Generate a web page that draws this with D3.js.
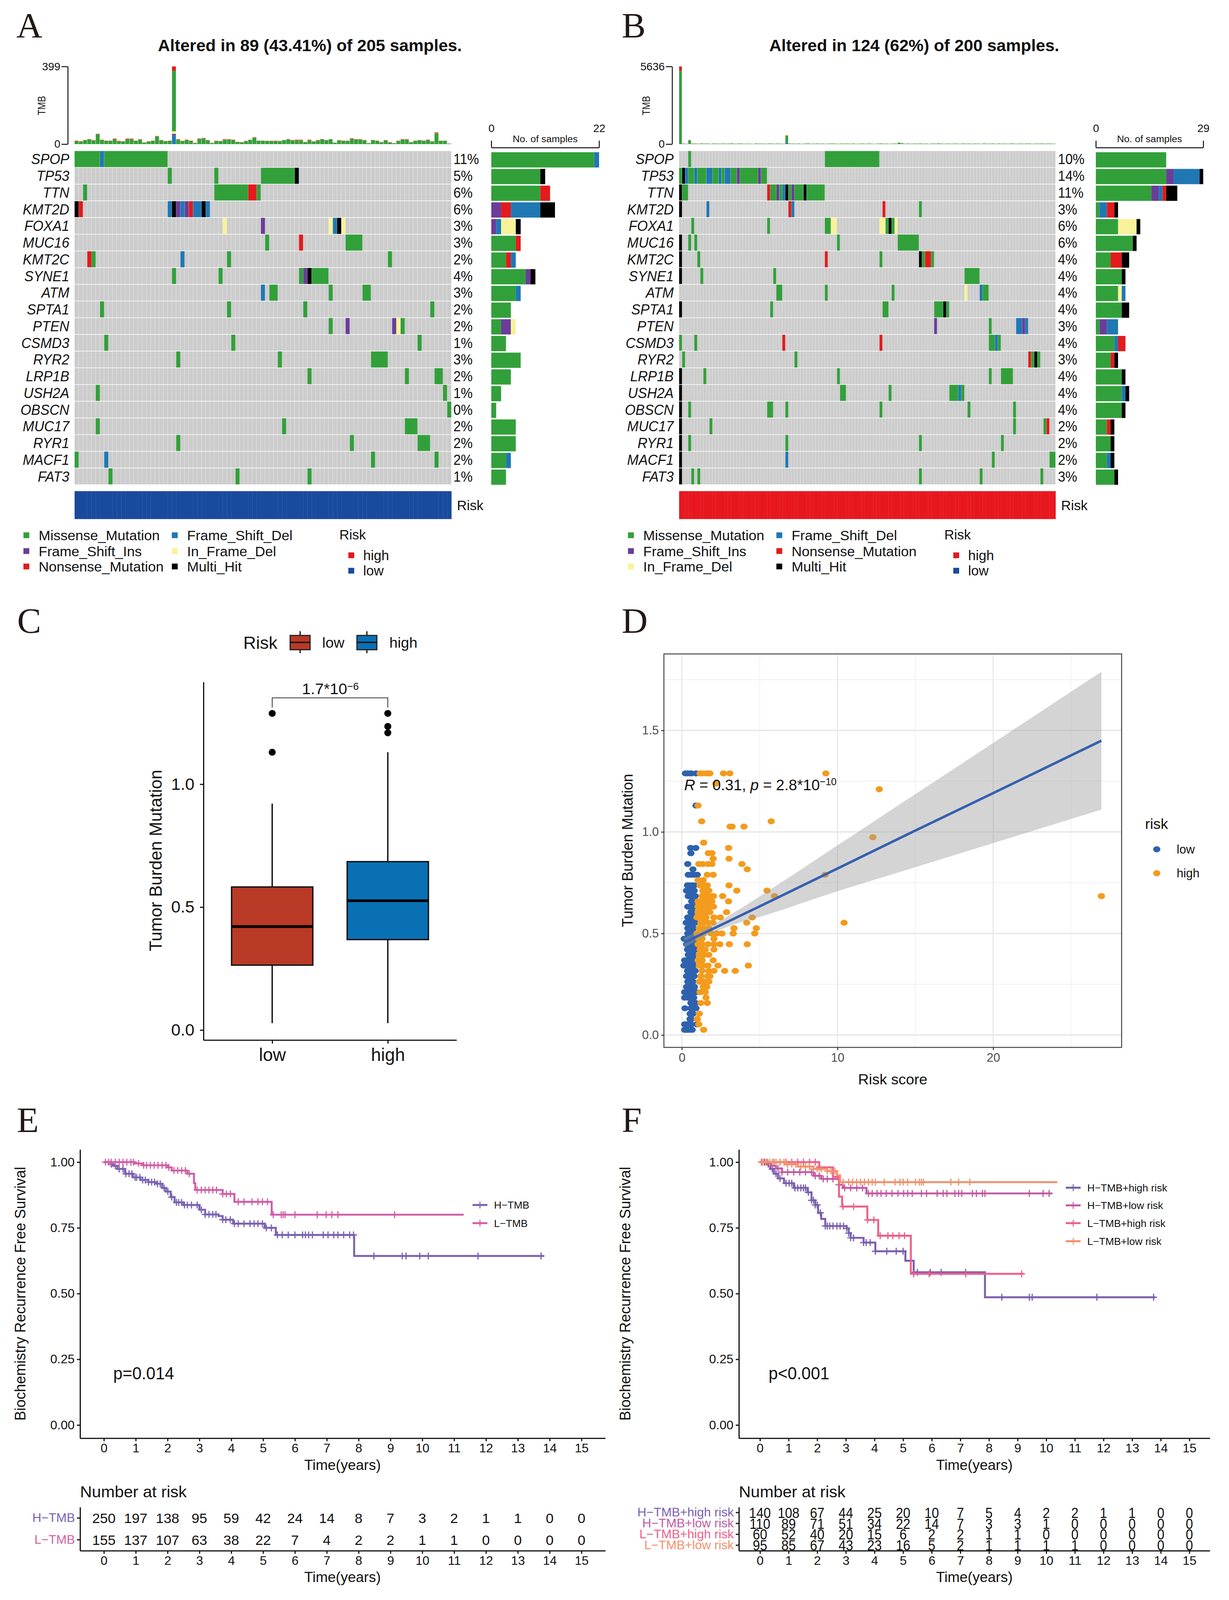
<!DOCTYPE html>
<html>
<head>
<meta charset="utf-8">
<script src="https://cdn.jsdelivr.net/npm/d3@7/dist/d3.min.js"></script>
<style>
  html, body { margin: 0; padding: 0; background: #fff; overflow: hidden; }
</style>
</head>
<body>
<svg id="fig" style="display:block"></svg>
<script>
const FONT = "'Liberation Sans', Arial, sans-serif"

// --- oncoplots ---
const genesA = ['SPOP','TP53','TTN','KMT2D','FOXA1','MUC16','KMT2C','SYNE1','ATM','SPTA1','PTEN','CSMD3','RYR2','LRP1B','USH2A','OBSCN','MUC17','RYR1','MACF1','FAT3']
const pctA = [11,5,6,6,3,3,2,4,3,2,2,1,3,2,1,0,2,2,2,1]
const pctB = [10,14,11,3,6,6,4,4,4,4,3,4,3,4,4,4,2,2,2,3]

// M missense, I frame shift ins, N nonsense, D frame shift del, F in frame del, H multi hit
// each run is [first column, last column, type]
const mutA = [
  [[0,5,'M'],[6,6,'D'],[7,21,'M']],
  [[22,22,'M'],[33,33,'M'],[44,51,'M'],[52,52,'H']],
  [[2,2,'M'],[33,40,'M'],[41,42,'N'],[43,43,'M']],
  [[0,0,'H'],[1,1,'N'],[22,22,'D'],[23,23,'H'],[24,24,'I'],[25,25,'D'],[26,26,'I'],[27,27,'N'],[28,29,'D'],[30,30,'H'],[31,31,'D']],
  [[35,35,'F'],[44,44,'I'],[60,60,'F'],[61,61,'D'],[62,62,'H'],[63,63,'F']],
  [[45,45,'M'],[53,53,'N'],[64,67,'M']],
  [[3,3,'N'],[4,4,'M'],[25,25,'D'],[36,36,'M'],[74,74,'M']],
  [[23,23,'M'],[34,34,'M'],[53,53,'M'],[54,54,'I'],[55,55,'H'],[56,59,'M']],
  [[44,44,'D'],[46,47,'M'],[60,60,'M'],[68,69,'M']],
  [[6,6,'M'],[36,36,'M'],[54,54,'M'],[84,84,'M']],
  [[60,60,'M'],[64,64,'I'],[75,75,'I'],[76,76,'F'],[77,77,'M']],
  [[7,7,'M'],[37,37,'M'],[81,81,'M']],
  [[24,24,'M'],[48,48,'M'],[70,73,'M']],
  [[55,55,'M'],[78,78,'M'],[85,86,'M']],
  [[5,5,'M'],[87,87,'M']],
  [[88,88,'M']],
  [[5,5,'M'],[49,49,'M'],[78,80,'M']],
  [[24,24,'M'],[65,65,'M'],[81,83,'M']],
  [[0,0,'M'],[7,7,'D'],[70,70,'M'],[85,85,'M']],
  [[8,8,'M'],[38,38,'M'],[55,55,'M']]
]
const mutB = [
  [[3,3,'M'],[48,65,'M']],
  [[0,0,'M'],[1,1,'H'],[2,2,'D'],[3,4,'M'],[5,5,'D'],[6,8,'M'],[9,10,'D'],[11,12,'M'],[13,13,'D'],[14,14,'M'],[15,16,'D'],[17,18,'M'],[19,19,'I'],[20,25,'M'],[26,26,'I'],[27,28,'M']],
  [[0,0,'H'],[1,2,'M'],[29,29,'N'],[30,31,'M'],[32,32,'I'],[33,33,'M'],[34,34,'D'],[35,35,'H'],[36,36,'M'],[37,37,'I'],[38,40,'M'],[41,41,'H'],[42,47,'M']],
  [[0,0,'H'],[9,9,'D'],[36,36,'N'],[37,37,'D'],[67,67,'N'],[79,79,'M']],
  [[4,4,'M'],[29,29,'M'],[48,49,'M'],[50,51,'F'],[66,67,'F'],[68,68,'M'],[69,69,'H'],[70,70,'M'],[71,71,'F']],
  [[0,0,'H'],[3,3,'M'],[5,5,'M'],[52,52,'M'],[72,78,'M']],
  [[0,0,'H'],[6,6,'M'],[48,48,'N'],[66,66,'M'],[79,79,'H'],[80,80,'M'],[81,82,'N'],[83,83,'M']],
  [[0,0,'H'],[7,7,'M'],[31,31,'M'],[94,98,'M']],
  [[32,33,'M'],[48,48,'M'],[70,70,'M'],[94,94,'F'],[99,99,'D'],[100,101,'M']],
  [[0,0,'H'],[30,30,'M'],[67,68,'M'],[84,86,'M'],[87,87,'H'],[88,88,'M']],
  [[84,84,'I'],[102,102,'M'],[111,112,'D'],[113,113,'I'],[114,114,'D']],
  [[0,0,'M'],[5,5,'M'],[34,34,'N'],[66,66,'N'],[102,103,'M'],[104,104,'D'],[105,105,'M']],
  [[1,1,'M'],[38,38,'M'],[115,115,'N'],[116,116,'M'],[117,117,'H'],[118,118,'M']],
  [[0,0,'H'],[8,8,'M'],[52,52,'M'],[102,102,'M'],[106,109,'M']],
  [[0,0,'H'],[53,54,'M'],[69,69,'M'],[89,91,'M'],[92,92,'D'],[93,93,'M']],
  [[0,0,'H'],[3,3,'M'],[29,30,'M'],[35,35,'M'],[66,66,'M'],[95,95,'M'],[110,110,'M']],
  [[0,0,'H'],[10,10,'M'],[110,110,'M'],[120,120,'M'],[121,121,'N']],
  [[0,0,'H'],[3,3,'M'],[35,35,'M'],[79,79,'M'],[106,106,'M']],
  [[0,0,'H'],[35,35,'D'],[103,103,'M'],[122,123,'M']],
  [[0,0,'H'],[4,4,'M'],[6,6,'M'],[79,79,'M'],[99,99,'M'],[119,119,'M']]
]

// right hand bars, counts per gene in the panel's own stacking order
const orderA = ['M','I','N','D','F','H']
const orderB = ['M','I','F','D','N','H']
const barsA = [[21,0,0,1,0,0],[10,0,0,0,0,1],[10,0,2,0,0,0],[0,2,2,6,0,3],[0,1,0,1,3,1],[5,0,1,0,0,0],[3,0,1,1,0,0],[7,1,0,0,0,1],[5,0,0,1,0,0],[4,0,0,0,0,0],[2,2,0,0,1,0],[3,0,0,0,0,0],[6,0,0,0,0,0],[4,0,0,0,0,0],[2,0,0,0,0,0],[1,0,0,0,0,0],[5,0,0,0,0,0],[5,0,0,0,0,0],[3,0,0,1,0,0],[3,0,0,0,0,0]]
const barsB = [[19,0,0,0,0,0],[19,2,0,7,0,1],[15,2,0,1,1,3],[1,0,0,2,2,1],[6,0,5,0,0,1],[10,0,0,0,0,1],[4,0,0,0,3,2],[7,0,0,0,0,1],[6,0,1,1,0,0],[7,0,0,0,0,2],[1,2,0,3,0,0],[5,0,0,1,2,0],[4,0,0,0,1,1],[7,0,0,0,0,1],[7,0,0,1,0,1],[7,0,0,0,0,1],[3,0,0,0,1,1],[4,0,0,0,0,1],[3,0,0,1,0,1],[5,0,0,0,0,1]]

// TMB per sample
const tmbA = [18,15,21,26,21,53,23,18,18,29,17,15,29,29,18,26,9,15,18,42,21,16,18,399,26,17,23,18,7,29,32,21,7,18,16,26,26,23,12,10,17,23,36,18,18,17,17,18,17,21,26,21,23,23,11,23,15,21,26,21,26,8,21,18,18,30,26,26,21,5,21,18,11,21,10,5,18,26,26,11,18,21,18,23,15,61,18,18,3]
const capA = [4,3,1,2,2,3,3,2,2,5,3,3,5,4,2,3,2,2,2,3,3,2,2,22,3,3,3,2,2,3,3,3,2,3,2,3,3,3,2,2,2,3,3,2,2,1,1,3,2,1,1,3,5,5,1,5,2,3,2,3,1,1,2,2,1,4,1,3,3,1,1,2,2,3,2,1,3,3,3,2,1,1,2,3,2,6,1,1,1]
const tmbExtraA = [[23,'D',43],[23,'I',10],[23,'F',13]]
const tmbB = [5636,45,30,300,50,42,35,60,40,48,30,55,42,36,50,38,44,60,33,47,52,30,42,36,28,55,40,48,35,44,50,32,46,38,30,643,52,40,36,48,30,44,58,34,40,50,36,42,30,46,54,38,32,48,40,44,36,52,30,42,46,34,50,38,28,44,56,36,40,30,48,42,120,70,36,50,32,46,40,54,34,42,30,48,38,60,44,32,50,36,42,46,30,52,38,44,34,48,40,30,56,36,42,50,32,46,38,44,30,54,40,34,48,36,42,50,30,44,38,52,34,46,40,36]
const capB = [314,8,6,40,10,8,6,12,8,10,6,10,8,6,10,8,8,12,6,10,10,6,8,6,6,10,8,10,6,8,10,6,8,8,6,40,10,8,6,10,6,8,12,6,8,10,6,8,6,8,10,8,6,10,8,8,6,10,6,8,8,6,10,8,6,8,12,6,8,6,10,8,20,14,6,10,6,8,8,10,6,8,6,10,8,12,8,6,10,6,8,8,6,10,8,8,6,10,8,6,12,6,8,10,6,8,8,8,6,10,8,6,10,6,8,10,6,8,8,10,6,8,8,6]
const tmbExtraB = [[0,'D',30],[3,'D',20],[35,'D',110],[35,'I',20]]

const legendA = [['M','Missense_Mutation'],['I','Frame_Shift_Ins'],['N','Nonsense_Mutation'],['D','Frame_Shift_Del'],['F','In_Frame_Del'],['H','Multi_Hit']]
const legendB = [['M','Missense_Mutation'],['I','Frame_Shift_Ins'],['F','In_Frame_Del'],['D','Frame_Shift_Del'],['N','Nonsense_Mutation'],['H','Multi_Hit']]

// --- boxplot ---
const boxCats = ['low','high']
const boxStats = [
  { q1: 0.264, med: 0.421, q3: 0.582, lo: 0.028, hi: 0.921, out: [1.288, 1.13] },
  { q1: 0.368, med: 0.526, q3: 0.685, lo: 0.028, hi: 1.13, out: [1.288, 1.235, 1.209] }
]

// --- scatter, points grouped by their TMB level: [tmb, [risk scores]] ---
const scatterLow = [
  [1.288,[0.23,0.36,0.53,0.61,0.91]],[1.13,[0.91]],[0.921,[0.56,0.89]],[0.895,[0.58]],[0.842,[0.38]],[0.816,[0.71]],
  [0.789,[0.41,0.61,0.79,0.99]],[0.737,[0.36,0.47,0.53,0.71,0.79]],[0.711,[0.3,0.48,0.61,0.79]],[0.684,[0.41,0.58,0.74,0.86]],
  [0.658,[0.71,0.63]],[0.632,[0.38,0.66,0.79,0.52]],[0.605,[0.58,0.71,0.65]],[0.579,[0.38,0.47,0.58,0.74]],[0.553,[0.28,0.46,0.66,0.86,0.56]],
  [0.526,[0.48,0.74,0.6,0.38]],[0.5,[0.38,0.61,0.81,0.5,0.7]],[0.474,[0.15,0.33,0.53,0.71,0.86,0.62]],[0.447,[0.3,0.48,0.61,0.79,0.4,0.7]],
  [0.421,[0.36,0.53,0.71,0.86,0.45,0.62]],[0.395,[0.41,0.58,0.76,0.5,0.67]],[0.368,[0.18,0.36,0.53,0.71,0.86,0.44,0.62]],[0.342,[0.13,0.3,0.48,0.61,0.74,0.4,0.55]],
  [0.316,[0.36,0.53,0.71,0.86,0.45,0.62]],[0.29,[0.3,0.48,0.61,0.79,0.39,0.7]],[0.263,[0.38,0.56,0.71,0.47,0.64]],[0.237,[0.3,0.48,0.66,0.81,0.4,0.57]],
  [0.211,[0.18,0.36,0.53,0.71,0.91,0.44,0.62]],[0.184,[0.18,0.41,0.58,0.76,0.5,0.67]],[0.158,[0.58,0.74,0.89,0.66]],[0.132,[0.2,0.58,0.79,0.91,0.68]],
  [0.105,[0.53,0.71,0.62]],[0.079,[0.53,0.6]],[0.053,[0.18,0.36,0.61,0.97,0.27]],[0.026,[0.18,0.36,0.48,0.66,0.27]]
]
const scatterHigh = [
  [1.288,[1.17,1.3,1.55,1.68,1.8,2.67,3.08,9.25]],[1.238,[2.18]],[1.21,[12.68]],[1.13,[1.04]],[1.052,[1.27,5.74]],
  [1.026,[3.1,3.23,3.99]],[0.974,[12.27]],[0.947,[1.4]],[0.921,[3.0]],[0.895,[1.7,1.93]],[0.868,[2.01,3.03]],
  [0.842,[1.09,1.35,1.68,1.93,3.86]],[0.816,[4.2]],[0.789,[1.63,2.01,9.2]],[0.763,[1.04,1.37]],
  [0.737,[1.17,1.42,1.63,3.03]],[0.711,[1.35,1.55,1.73,3.53,5.47]],[0.684,[1.3,1.55,1.68,1.8,2.03,2.62,5.95,26.95]],
  [0.658,[1.04,1.22,1.3,1.5,1.63,1.8,1.93,3.0]],[0.632,[1.04,1.17,1.3,1.42,1.55,1.7,1.8,2.03]],[0.605,[1.04,1.17,1.3,1.45,1.63,1.8,2.87]],
  [0.579,[0.97,1.1,1.22,1.4,1.55,2.06,2.47,4.52]],[0.553,[1.22,1.4,1.68,1.99,4.17,10.42]],[0.526,[1.12,1.42,1.73,3.35,4.78]],
  [0.5,[0.97,1.37,1.88,2.24,2.57,3.3,4.68]],[0.474,[1.1,1.3,2.06]],[0.447,[1.04,1.3,1.68,2.06,2.44,3.05,4.2]],
  [0.421,[1.17,1.5,2.06,1.3]],[0.395,[1.12,1.42,1.73,1.25]],[0.368,[1.04,1.3,2.01,1.15]],[0.342,[1.12,1.37,1.68,2.32,4.27]],
  [0.316,[1.3,1.73,2.06,2.75,3.43]],[0.29,[1.22,1.8,1.65]],[0.263,[1.12,1.42,1.73,1.25]],[0.237,[1.37,1.6]],[0.211,[1.17,1.5]],
  [0.184,[1.55]],[0.158,[1.22,1.63]],[0.105,[1.12]],[0.079,[0.99]],[0.053,[1.09]],[0.026,[1.4]]
]
// fitted line and confidence band read at a few risk scores
const fitX = [0.15,1.5,2.95,5.5,10,14.9,20,26.95]
const fitY = [0.456,0.505,0.558,0.652,0.82,1.003,1.191,1.449]
const fitHi = [0.48,0.525,0.585,0.707,0.934,1.181,1.438,1.788]
const fitLo = [0.431,0.485,0.533,0.593,0.708,0.824,0.945,1.11]

// --- survival ---
const years = d3.range(0, 16)
const hTmb = {
  t: [0,0.23,0.29,0.42,0.66,0.91,1.15,1.4,1.64,1.83,1.95,2.1,2.22,2.5,3.0,3.18,3.6,3.73,4.06,5.05,5.4,7.86,13.82],
  s: [1,0.992,0.986,0.974,0.956,0.942,0.932,0.924,0.918,0.902,0.888,0.867,0.847,0.837,0.819,0.801,0.795,0.781,0.766,0.75,0.723,0.643,0.643]
}
const lTmb = {
  t: [0,0.97,1.21,2.01,2.13,2.62,2.83,2.87,3.73,4.1,5.27,11.3],
  s: [1,0.995,0.988,0.98,0.968,0.956,0.92,0.894,0.879,0.849,0.8,0.8]
}
const hTmbCens = [0.23,0.36,0.48,0.6,0.69,0.79,0.88,0.98,1.03,1.13,1.22,1.3,1.4,1.5,1.59,1.68,1.77,1.89,2.01,2.13,2.28,2.35,2.44,2.53,2.62,2.75,2.93,3.06,3.18,3.3,3.42,3.52,3.73,3.83,3.97,4.1,4.22,4.4,4.59,4.72,4.84,4.98,5.1,5.26,5.45,5.6,5.79,6,6.24,6.33,6.43,6.55,6.89,7.04,7.22,7.35,7.53,7.72,7.84,8.48,9.37,9.49,9.92,10.19,11.75,13.73]
const lTmbCens = [0.05,0.15,0.23,0.36,0.48,0.6,0.72,0.85,0.93,1.09,1.25,1.34,1.46,1.58,1.7,1.83,1.95,2.04,2.2,2.32,2.44,2.56,2.68,2.93,3.06,3.18,3.3,3.42,3.54,3.73,3.85,3.97,4.22,4.4,4.65,4.84,4.98,5.14,5.32,5.57,5.63,5.69,6,6.7,6.98,7.16,7.35,9.13]

const hHigh = {
  t: [0,0.22,0.36,0.49,0.63,0.84,1.18,1.66,1.8,1.93,2.03,2.14,2.28,3.03,3.1,3.17,3.62,4.03,5.08,5.37,7.86,13.81],
  s: [1,0.992,0.974,0.956,0.938,0.92,0.902,0.885,0.855,0.837,0.807,0.784,0.757,0.748,0.73,0.712,0.694,0.661,0.625,0.581,0.486,0.486]
}
const hLow = {
  t: [0,0.36,0.56,0.77,1.87,2.14,2.76,2.9,3.72,10.21],
  s: [1,0.986,0.976,0.962,0.948,0.936,0.914,0.902,0.881,0.881]
}
const lHigh = {
  t: [0,2.07,2.55,2.76,2.87,3.75,4.13,5.27,9.21],
  s: [1,0.98,0.944,0.869,0.831,0.78,0.72,0.575,0.575]
}
const lLow = {
  t: [0,0.9,1.32,1.87,2.35,2.69,2.8,10.39],
  s: [1,0.992,0.983,0.974,0.966,0.95,0.924,0.924]
}
const hHighCens = [0.15,0.29,0.43,0.56,0.7,0.91,1.02,1.11,1.22,1.32,1.43,1.52,1.59,1.69,1.8,1.87,1.93,2.0,2.11,2.28,2.35,2.44,2.55,2.69,2.8,2.92,3.03,3.1,3.17,3.27,3.62,3.71,3.85,4.03,4.43,4.76,5.0,5.37,5.5,5.95,6.33,7.18,8.45,9.41,9.51,11.77,13.75]
const hLowCens = [0.08,0.25,0.43,0.63,0.77,0.97,1.18,1.39,1.59,1.8,1.93,2.07,2.21,2.35,2.55,2.76,2.96,3.17,3.38,3.58,3.79,3.92,4.09,4.23,4.41,4.61,4.82,5.02,5.16,5.32,5.64,5.82,6.19,6.4,6.53,6.81,6.94,7.05,7.42,7.56,7.77,7.86,9.41,9.89,10.1]
const lHighCens = [0.05,0.25,0.49,0.7,0.91,1.11,1.32,1.52,1.73,1.93,2.07,2.69,2.9,3.27,3.76,3.98,4.2,4.47,4.64,4.86,5.05,5.37,5.91,7.19,9.14]
const lLowCens = [0.08,0.19,0.33,0.43,0.56,0.7,0.84,0.97,1.11,1.25,1.43,1.59,1.73,1.87,2.0,2.14,2.35,2.48,2.62,2.9,3.1,3.24,3.38,3.51,3.65,3.79,3.92,4.03,4.34,4.72,4.89,5.0,5.16,5.43,5.57,5.64,5.71,6.67,6.94,7.33]

const riskE = [[250,197,138,95,59,42,24,14,8,7,3,2,1,1,0,0],[155,137,107,63,38,22,7,4,2,2,1,1,0,0,0,0]]
const riskF = [
  [140,108,67,44,25,20,10,7,5,4,2,2,1,1,0,0],
  [110,89,71,51,34,22,14,7,3,3,1,0,0,0,0,0],
  [60,52,40,20,15,6,2,2,1,1,0,0,0,0,0,0],
  [95,85,67,43,23,16,5,2,1,1,1,1,0,0,0,0]
]

// --- drawing ---
const mutColor = { M: '#32A03A', I: '#6A3D9A', N: '#E41A1C', D: '#1F78B4', F: '#F8F39A', H: '#000000' }
// the window can come out shorter than the figure, so fit the whole figure into it
const svg = d3.select('#fig').attr('font-family', FONT)
  .attr('width', 3147).attr('height', Math.min(4152, window.innerHeight))
  .attr('viewBox', '0 0 3147 4152').attr('preserveAspectRatio', 'none')
svg.append('rect').attr('width', 3147).attr('height', 4152).attr('fill', '#fff')

// text helper, y is the vertical centre of the line
function txt(g, x, y, s, size, o = {}) {
  let tr = `translate(${x},${y})`
  if (o.rotate) tr += ` rotate(${o.rotate})`
  if (o.sx) tr += ` scale(${o.sx},1)`
  return g.append('text')
    .attr('transform', tr)
    .attr('dy', '.36em')
    .attr('font-size', size)
    .attr('font-weight', o.weight || null)
    .attr('font-style', o.style || null)
    .attr('font-family', o.family || null)
    .attr('text-anchor', o.anchor || 'start')
    .attr('fill', o.fill || '#111')
    .text(s)
}

function letter(s, x, y) {
  svg.append('text').attr('x', x).attr('y', y)
    .attr('font-family', "'Liberation Serif', serif")
    .attr('font-size', 92).attr('fill', '#231815').text(s)
}
letter('A', 42, 97); letter('B', 1592, 97)
letter('C', 44, 1642); letter('D', 1592, 1642)
letter('E', 43, 2938); letter('F', 1592, 2938)

function axisStyle(g, size, color) {
  g.attr('font-family', FONT).attr('font-size', size)
  g.selectAll('text').attr('fill', color || '#111')
  g.selectAll('line,path').attr('stroke', '#111').attr('stroke-width', 3)
  return g
}

function oncoplot(o) {
  const g = svg.append('g')
  const n = o.tmb.length
  const cols = d3.scaleLinear().domain([0, n]).range([o.x0, o.x1])
  const cw = cols(1) - cols(0)
  const rows = d3.scaleBand().domain(genesA).range([392, 1257]).paddingInner(0.04)

  txt(g, (o.x0 + o.x1) / 2 + o.titleShift, 117, o.title, 44, { weight: 'bold', anchor: 'middle', sx: o.titleSx })

  // TMB on top
  const yT = d3.scaleLinear().domain([0, o.tmbMax]).range([374, 172.5])
  const tmbG = g.append('g')
  o.tmb.forEach((total, i) => {
    const extra = o.extra.filter(e => e[0] === i)
    let base = 0
    extra.forEach(e => {
      tmbG.append('rect').attr('x', cols(i)).attr('width', cw - 0.8)
        .attr('y', yT(base + e[2])).attr('height', yT(base) - yT(base + e[2])).attr('fill', mutColor[e[1]])
      base += e[2]
    })
    const top = total - o.cap[i]
    tmbG.append('rect').attr('x', cols(i)).attr('width', cw - 0.8)
      .attr('y', yT(top)).attr('height', Math.max(0, yT(base) - yT(top))).attr('fill', mutColor.M)
    tmbG.append('rect').attr('x', cols(i)).attr('width', cw - 0.8)
      .attr('y', yT(total)).attr('height', yT(top) - yT(total)).attr('fill', total === o.tmbMax ? mutColor.N : '#DB6238')
  })
  axisStyle(g.append('g').attr('transform', `translate(${o.axisX},0)`)
    .call(d3.axisLeft(yT).tickValues([0, o.tmbMax]).tickFormat(d3.format('d')).tickSize(16).tickPadding(3).tickSizeOuter(0)), 28)
    .selectAll('line,path').attr('stroke-width', 2.5)
  txt(g, o.tmbLabelX, 274, 'TMB', 28, { rotate: -90, anchor: 'middle', sx: 0.85 })

  // matrix
  genesA.forEach((gene, r) => {
    const y = rows(gene), h = rows.bandwidth()
    const rg = g.append('g')
    rg.append('rect').attr('x', o.x0).attr('y', y).attr('width', o.x1 - o.x0).attr('height', h).attr('fill', '#E6E6E6')
    rg.selectAll('rect.c').data(d3.range(n)).join('rect').attr('class', 'c')
      .attr('x', i => cols(i)).attr('y', y).attr('width', cw - 1).attr('height', h).attr('fill', '#CCCCCC')
    o.mut[r].forEach(run => {
      rg.append('rect').attr('x', cols(run[0])).attr('y', y)
        .attr('width', cols(run[1] + 1) - cols(run[0]) - 0.5).attr('height', h).attr('fill', mutColor[run[2]])
    })
    txt(g, o.geneX, y + h / 2, gene, 37, { style: 'italic', anchor: 'end', sx: 0.95 })
    txt(g, o.pctX, y + h / 2, o.pct[r] + '%', 37, { sx: 0.92 })

    // stacked count bar
    let acc = 0
    o.bars[r].forEach((v, k) => {
      if (v > 0) {
        g.append('rect').attr('x', o.xB(acc)).attr('y', y + 3).attr('width', o.xB(acc + v) - o.xB(acc))
          .attr('height', h - 2).attr('fill', mutColor[o.order[k]])
      }
      acc += v
    })
  })

  // axis above the count bars
  axisStyle(g.append('g').attr('transform', 'translate(0,383)')
    .call(d3.axisTop(o.xB).tickValues([0, o.xB.domain()[1]]).tickSize(18).tickPadding(22).tickSizeOuter(0)), 28)
    .selectAll('line,path').attr('stroke-width', 2.5)
  txt(g, (o.xB.range()[0] + o.xB.range()[1]) / 2, 360, 'No. of samples', 25, { anchor: 'middle' })

  // risk annotation
  g.selectAll('rect.r').data(d3.range(n)).join('rect').attr('class', 'r')
    .attr('x', i => cols(i)).attr('y', 1274.5).attr('width', cw + 0.3).attr('height', 72.5).attr('fill', o.riskColor)
  txt(g, o.x1 + 14, 1311, 'Risk', 35)

  // legends
  const rowsY = [1389, 1430, 1470]
  o.legend.forEach((d, i) => {
    const c = Math.floor(i / 3), ly = rowsY[i % 3]
    g.append('rect').attr('x', o.legX[c]).attr('y', ly - 7.5).attr('width', 15).attr('height', 15).attr('fill', mutColor[d[0]])
    txt(g, o.legX[c] + 39, ly, d[1], 36)
  })
  txt(g, o.riskX, 1387, 'Risk', 35)
  ;[['high', '#E41A1C', 1441], ['low', '#1A4A9E', 1481]].forEach(d => {
    g.append('rect').attr('x', o.riskX + 23).attr('y', d[2] - 7.5).attr('width', 15).attr('height', 15).attr('fill', d[1])
    txt(g, o.riskX + 61, d[2], d[0], 35)
  })
}

oncoplot({
  title: 'Altered in 89 (43.41%) of 205 samples.', titleShift: 120, titleSx: 0.98,
  x0: 191, x1: 1156, tmb: tmbA, cap: capA, extra: tmbExtraA, tmbMax: 399, mut: mutA, pct: pctA,
  bars: barsA, order: orderA, xB: d3.scaleLinear().domain([0, 22]).range([1258, 1534]),
  axisX: 173.5, tmbLabelX: 106, geneX: 177.5, pctX: 1161, riskColor: '#1A4A9E',
  legend: legendA, legX: [60, 440], riskX: 869
})
oncoplot({
  title: 'Altered in 124 (62%) of 200 samples.', titleShift: 120, titleSx: 0.98,
  x0: 1739, x1: 2703, tmb: tmbB, cap: capB, extra: tmbExtraB, tmbMax: 5636, mut: mutB, pct: pctB,
  bars: barsB, order: orderB, xB: d3.scaleLinear().domain([0, 29]).range([2806, 3081]),
  axisX: 1721, tmbLabelX: 1654, geneX: 1725, pctX: 2709, riskColor: '#E8171F',
  legend: legendB, legX: [1608, 1988], riskX: 2418
})

// panel C
{
  const g = svg.append('g')
  const y = d3.scaleLinear().domain([0, 1]).range([2673, 2035])
  const x = d3.scalePoint().domain(boxCats).range([697, 993])
  const hw = 104
  const fills = ['#B93A26', '#0A70B4']
  // spine runs past the ticks, so the axis gets its own extended range
  const yAxis = d3.scaleLinear().domain([y.invert(2699), y.invert(1770)]).range([2699, 1770])
  axisStyle(g.append('g').attr('transform', 'translate(521,0)')
    .call(d3.axisLeft(yAxis).tickValues([0, 0.5, 1]).tickFormat(d3.format('.1f')).tickSize(9).tickPadding(14).tickSizeOuter(0)), 43)
  const xAxis = d3.scaleLinear().domain([521, 1169]).range([521, 1169])
  axisStyle(g.append('g').attr('transform', 'translate(0,2699)')
    .call(d3.axisBottom(xAxis).tickValues(boxCats.map(c => x(c))).tickFormat((d, i) => boxCats[i]).tickSize(9).tickPadding(12).tickSizeOuter(0)), 46)

  boxStats.forEach((b, i) => {
    const cx = x(boxCats[i])
    g.append('line').attr('x1', cx).attr('x2', cx).attr('y1', y(b.lo)).attr('y2', y(b.hi)).attr('stroke', '#111').attr('stroke-width', 3.5)
    g.append('rect').attr('x', cx - hw).attr('width', hw * 2).attr('y', y(b.q3)).attr('height', y(b.q1) - y(b.q3))
      .attr('fill', fills[i]).attr('stroke', '#111').attr('stroke-width', 3.5)
    g.append('line').attr('x1', cx - hw).attr('x2', cx + hw).attr('y1', y(b.med)).attr('y2', y(b.med)).attr('stroke', '#000').attr('stroke-width', 7)
    b.out.forEach(v => {
      g.append('ellipse').attr('cx', cx).attr('cy', y(v)).attr('rx', 9).attr('ry', 9).attr('fill', '#000')
    })
  })
  txt(g, 398, 2233, 'Tumor Burden Mutation', 45, { rotate: -90, anchor: 'middle' })

  // significance bracket
  g.append('path').attr('d', `M${x('low')},1836V1811H${x('high')}V1836`).attr('fill', 'none').attr('stroke', '#333').attr('stroke-width', 2)
  const lab = txt(g, 846, 1787, '1.7*10', 40, { anchor: 'middle' })
  lab.append('tspan').attr('dy', '-.45em').attr('font-size', 26).text('−6')

  // legend
  txt(g, 623, 1667, 'Risk', 45)
  ;[[743, '#B93A26', 'low', 825], [914, '#0A70B4', 'high', 997]].forEach(d => {
    const mid = d[0] + 25.5
    g.append('line').attr('x1', mid).attr('x2', mid).attr('y1', 1638).attr('y2', 1695).attr('stroke', '#111').attr('stroke-width', 3)
    g.append('rect').attr('x', d[0]).attr('y', 1649).attr('width', 51).attr('height', 37).attr('fill', d[1]).attr('stroke', '#222').attr('stroke-width', 3)
    g.append('line').attr('x1', d[0]).attr('x2', d[0] + 51).attr('y1', 1667).attr('y2', 1667).attr('stroke', '#111').attr('stroke-width', 3.5)
    txt(g, d[3], 1667, d[2], 38)
  })
}

// panel D
{
  const g = svg.append('g')
  const x = d3.scaleLinear().domain([-1.154, 28.25]).range([1700, 2872])
  const y = d3.scaleLinear().domain([-0.0607, 1.876]).range([2718, 1697])
  ;[5, 15, 25].forEach(v => g.append('line').attr('x1', x(v)).attr('x2', x(v)).attr('y1', 1697).attr('y2', 2718).attr('stroke', '#EFEFEF').attr('stroke-width', 1.5))
  ;[0.25, 0.75, 1.25, 1.75].forEach(v => g.append('line').attr('x1', 1700).attr('x2', 2872).attr('y1', y(v)).attr('y2', y(v)).attr('stroke', '#EFEFEF').attr('stroke-width', 2))
  ;[0, 10, 20].forEach(v => g.append('line').attr('x1', x(v)).attr('x2', x(v)).attr('y1', 1697).attr('y2', 2718).attr('stroke', '#E8E8E8').attr('stroke-width', 3))
  ;[0, 0.5, 1, 1.5].forEach(v => g.append('line').attr('x1', 1700).attr('x2', 2872).attr('y1', y(v)).attr('y2', y(v)).attr('stroke', '#E8E8E8').attr('stroke-width', 3.5))

  const dots = (data, color) => data.forEach(row => row[1].forEach(v => {
    g.append('ellipse').attr('cx', x(v)).attr('cy', y(row[0])).attr('rx', 9.3).attr('ry', 7.8).attr('fill', color)
  }))
  dots(scatterLow, '#2F62AE')
  dots(scatterHigh, '#F39B1C')

  const band = d3.area().x((d, i) => x(fitX[i])).y0((d, i) => y(fitLo[i])).y1((d, i) => y(fitHi[i])).curve(d3.curveMonotoneX)
  g.append('path').attr('d', band(fitX)).attr('fill', '#999').attr('opacity', 0.42)
  const fit = d3.line().x((d, i) => x(fitX[i])).y((d, i) => y(fitY[i]))
  g.append('path').attr('d', fit(fitX)).attr('fill', 'none').attr('stroke', '#3560B0').attr('stroke-width', 6.5)

  g.append('rect').attr('x', 1700).attr('y', 1697).attr('width', 1172).attr('height', 1021).attr('fill', 'none').attr('stroke', '#444').attr('stroke-width', 2.5)

  axisStyle(g.append('g').attr('transform', 'translate(1700,0)')
    .call(d3.axisLeft(y).tickValues([0, 0.5, 1, 1.5]).tickFormat(d3.format('.1f')).tickSize(7).tickPadding(6).tickSizeOuter(0)), 31, '#4D4D4D')
    .select('.domain').remove()
  axisStyle(g.append('g').attr('transform', 'translate(0,2718)')
    .call(d3.axisBottom(x).tickValues([0, 10, 20]).tickSize(7).tickPadding(8).tickSizeOuter(0)), 31, '#4D4D4D')
    .select('.domain').remove()
  g.selectAll('.tick line').attr('stroke', '#333').attr('stroke-width', 2.5)

  txt(g, 1606, 2207, 'Tumor Burden Mutation', 38, { rotate: -90, anchor: 'middle' })
  txt(g, 2286, 2800, 'Risk score', 38, { anchor: 'middle' })

  const t = txt(g, 1752, 2036, '', 40, { sx: 0.97 })
  t.append('tspan').attr('font-style', 'italic').text('R')
  t.append('tspan').text(' = 0.31, ')
  t.append('tspan').attr('font-style', 'italic').text('p')
  t.append('tspan').text(' = 2.8*10')
  t.append('tspan').attr('dy', '-.5em').attr('font-size', 26).text('−10')

  txt(g, 2932, 2137, 'risk', 38)
  ;[['low', '#2F62AE', 2204], ['high', '#F39B1C', 2266]].forEach(d => {
    g.append('ellipse').attr('cx', 2962).attr('cy', d[2]).attr('rx', 9.3).attr('ry', 7.8).attr('fill', d[1])
    txt(g, 3013, d[2], d[0], 31)
  })
}

// panels E and F
function survival(o) {
  const g = svg.append('g')
  const x = d3.scaleLinear().domain([(o.left - o.zero) / o.perYear, (o.right - o.zero) / o.perYear]).range([o.left, o.right])
  const y = d3.scaleLinear().domain([-0.05, 1.048]).range([3732, 2983])
  const at = (s, t) => s.s[Math.max(0, d3.bisectRight(s.t, t) - 1)]

  axisStyle(g.append('g').attr('transform', `translate(${o.left},0)`)
    .call(d3.axisLeft(y).tickValues([0, 0.25, 0.5, 0.75, 1]).tickFormat(d3.format('.2f')).tickSize(8).tickPadding(6).tickSizeOuter(0)), 32)
  axisStyle(g.append('g').attr('transform', 'translate(0,3732)')
    .call(d3.axisBottom(x).tickValues(years).tickFormat(d3.format('d')).tickSize(8).tickPadding(6).tickSizeOuter(0)), 32)
  txt(g, o.ylabX, 3357, 'Biochemistry Recurrence Free Survival', 38, { rotate: -90, anchor: 'middle' })
  txt(g, o.timeX, 3801, 'Time(years)', 37, { anchor: 'middle' })
  txt(g, o.pX, 3563, o.p, 45, { sx: 0.95 })

  const step = d3.line().x(d => x(d.t)).y(d => y(d.s)).curve(d3.curveStepAfter)
  o.series.forEach(s => {
    const pts = s.data.t.map((t, i) => ({ t, s: s.data.s[i] }))
    g.append('path').attr('d', step(pts)).attr('fill', 'none').attr('stroke', s.color).attr('stroke-width', 5)
    s.cens.forEach(t => {
      const px = x(t), py = y(at(s.data, t))
      g.append('path').attr('d', `M${px - 9},${py}H${px + 9}M${px},${py - 9}V${py + 9}`).attr('stroke', s.color).attr('stroke-width', 3).attr('fill', 'none')
    })
  })

  // legend
  o.series.forEach((s, i) => {
    const ly = o.legY[i]
    g.append('line').attr('x1', o.legX).attr('x2', o.legX + 38).attr('y1', ly).attr('y2', ly).attr('stroke', s.color).attr('stroke-width', 5)
    g.append('line').attr('x1', o.legX + 19).attr('x2', o.legX + 19).attr('y1', ly - 9).attr('y2', ly + 9).attr('stroke', s.color).attr('stroke-width', 2.5)
    txt(g, o.legX + 55, ly, s.name.replace('-', '−'), 26.5)
  })

  // number at risk table
  txt(g, o.left, 3870, 'Number at risk', 42)
  const rowsBand = d3.scaleBand().domain(o.series.map(s => s.name)).range([3911, 4024])
  const yAx = axisStyle(g.append('g').attr('transform', `translate(${o.left},0)`)
    .call(d3.axisLeft(rowsBand).tickSize(8).tickPadding(5).tickFormat(d => d.replace('-', '−')).tickSizeOuter(0)), o.rowFont)
  yAx.selectAll('.tick text').attr('fill', (d, i) => o.series[i].color)
  axisStyle(g.append('g').attr('transform', 'translate(0,4024)')
    .call(d3.axisBottom(x).tickValues(years).tickFormat(d3.format('d')).tickSize(8).tickPadding(6).tickSizeOuter(0)), 32)
  txt(g, o.timeX, 4092, 'Time(years)', 37, { anchor: 'middle' })
  o.risk.forEach((row, r) => {
    row.forEach((v, i) => {
      txt(g, x(years[i]), rowsBand(o.series[r].name) + rowsBand.bandwidth() / 2, v, o.numFont, { anchor: 'middle', sx: o.numSx })
    })
  })
}

survival({
  left: 205, right: 1550, zero: 266, perYear: 81.53, ylabX: 51, timeX: 877, pX: 290, p: 'p=0.014',
  legX: 1210, legY: [3127, 3174], rowFont: 32, numFont: 36, numSx: 1, risk: riskE,
  series: [
    { name: 'H-TMB', data: hTmb, cens: hTmbCens, color: '#7A62B4' },
    { name: 'L-TMB', data: lTmb, cens: lTmbCens, color: '#CF5FA6' }
  ]
})
survival({
  left: 1892, right: 3098, zero: 1946, perYear: 73.3, ylabX: 1600, timeX: 2495, pX: 1968, p: 'p<0.001',
  legX: 2729, legY: [3082, 3128, 3174, 3221], rowFont: 32, numFont: 38, numSx: 0.88, risk: riskF,
  series: [
    { name: 'H-TMB+high risk', data: hHigh, cens: hHighCens, color: '#7A5FAE' },
    { name: 'H-TMB+low risk', data: hLow, cens: hLowCens, color: '#C05AA2' },
    { name: 'L-TMB+high risk', data: lHigh, cens: lHighCens, color: '#EE6088' },
    { name: 'L-TMB+low risk', data: lLow, cens: lLowCens, color: '#F0916C' }
  ]
})
</script>
</body>
</html>
